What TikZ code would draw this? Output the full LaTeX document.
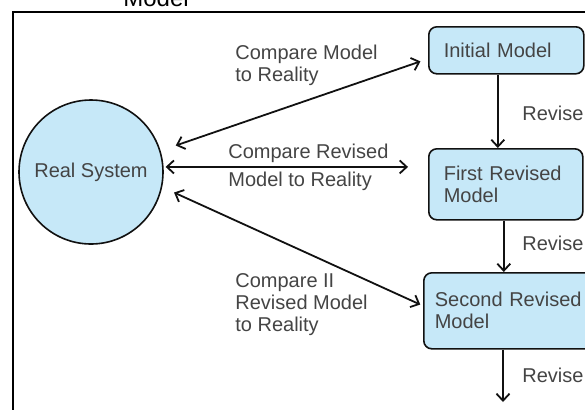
\documentclass[tikz,border=0pt]{standalone}
\usepackage{fontspec}
\setmainfont{Liberation Sans}
\usetikzlibrary{arrows.meta,positioning,calc}
\definecolor{rsink}  {HTML}{111111}
\definecolor{rstext} {HTML}{444444}
\definecolor{rsfill} {HTML}{C6E8F8}
\tikzset{
  rsbox/.style={draw=rsink, fill=rsfill, line width=0.8pt, rounded corners=4pt,
                anchor=north west, align=left, inner xsep=7.5pt,
                font=\fontsize{10}{11}\selectfont, text=rstext},
  rssys/.style={circle, draw=rsink, fill=rsfill, line width=0.8pt,
                minimum size=72pt, inner sep=0pt,
                font=\fontsize{10}{11}\selectfont, text=rstext},
  rsedge/.style={-{Straight Barb[length=3.5pt,width=6.5pt]}, draw=rsink, line width=0.9pt},
  rsboth/.style={rsedge, {Straight Barb[length=3.5pt,width=6.5pt]}-{Straight Barb[length=3.5pt,width=6.5pt]}},
  rslabel/.style={font=\fontsize{10}{11}\selectfont, text=rstext, align=left,
                  inner sep=0pt, anchor=west},
}
\begin{document}
\begin{tikzpicture}[x=0.5pt,y=-0.5pt]
  \useasboundingbox (0,0) rectangle (585,409);
  \clip (0,0) rectangle (585,409);
  % frame and cut caption
  \node[anchor=base west, inner sep=0pt, font=\fontsize{12}{14}\selectfont] (capt) at (123,6) {Model};
  \draw[line width=1pt] (13,12) rectangle (600,420);
  % system and models
  \node[rssys] (rsys) at (91,172) {Real System};
  \node[rsbox, text width=62.5pt, minimum height=23.5pt] (init) at (428,26) {Initial Model};
  \node[rsbox, text width=62pt, minimum height=35.5pt] (first) at (428,148) {First Revised\\Model};
  \node[rsbox, inner xsep=5.5pt, text width=76pt, minimum height=38pt] (second) at (423,272) {Second Revised\\Model};
  \coordinate (rsend) at (503,402);
  % revise steps
  \draw[rsedge] ([xshift=-4.25pt]init.south) -- ([xshift=-4.25pt]init.south |- first.north);
  \draw[rsedge] ([xshift=-1pt]first.south) -- ([xshift=-1pt]first.south |- second.north);
  \draw[rsedge] (second.south -| rsend) -- (rsend);
  \node[rslabel] (rev1) at (522,113) {Revise};
  \node[rslabel] (rev2) at (522,243) {Revise};
  \node[rslabel] (rev3) at (522,375) {Revise};
  % comparisons
  \draw[rsboth, shorten <=8pt, shorten >=4pt] (rsys.17.5) -- ([yshift=-4.25pt]init.west);
  \draw[rsboth, shorten <=1pt, shorten >=10pt] (rsys.4.8) -- (rsys.4.8 -| first.west);
  \draw[rsboth, shorten <=6.5pt, shorten >=1.5pt] (rsys.-12) -- ([yshift=2.5pt]second.west);
  \node[rslabel] (cmp1) at (235,65) {Compare Model\\to Reality};
  \node[rslabel] (cmp2) at (228,167) {Compare Revised\\[3pt]Model to Reality};
  \node[rslabel] (cmp3) at (235,305) {Compare II\\Revised Model\\to Reality};
\end{tikzpicture}
\end{document}
